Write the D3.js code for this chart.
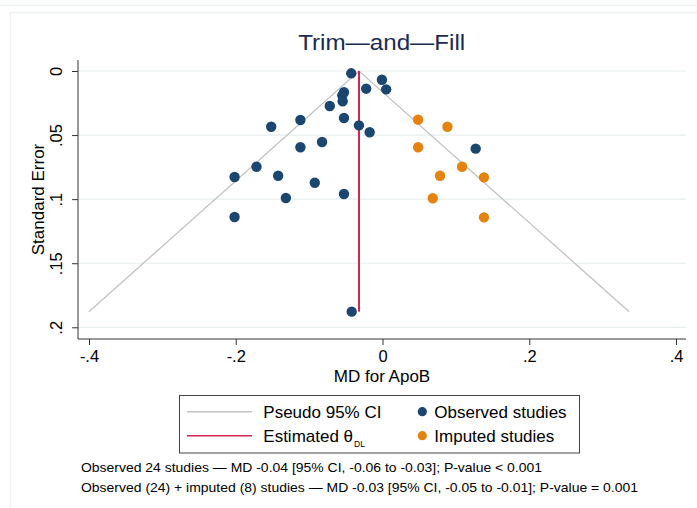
<!DOCTYPE html>
<html>
<head>
<meta charset="utf-8">
<script src="https://cdn.jsdelivr.net/npm/d3@7"></script>
<style>
  html, body { margin: 0; padding: 0; background: #ffffff; }
  svg { display: block; font-family: "Liberation Sans", Arial, Helvetica, sans-serif; }
</style>
</head>
<body>
<svg id="chart" width="697" height="508"></svg>
<script>
// ---------- data ----------
const observedMD = [-0.0426, -0.0008, -0.0222, 0.0050, -0.0525, -0.0548, -0.0543, -0.0719,
                    -0.0525, -0.1119, -0.1517, -0.0321, -0.0175, -0.0824, -0.1119, -0.1717,
                    -0.2016, -0.1422, -0.0923, -0.1317, -0.0525, -0.2016, 0.1270, -0.0420];
const observedSE = [0.0018, 0.0068, 0.0138, 0.0143, 0.0166, 0.0190, 0.0236, 0.0273,
                    0.0367, 0.0382, 0.0435, 0.0424, 0.0478, 0.0554, 0.0595, 0.0747,
                    0.0827, 0.0817, 0.0872, 0.0991, 0.0960, 0.1139, 0.0606, 0.1878];
const imputedMD = [0.0485, 0.0885, 0.0485, 0.1084, 0.0784, 0.1383, 0.0685, 0.1383];
const imputedSE = [0.0380, 0.0435, 0.0595, 0.0747, 0.0817, 0.0830, 0.0993, 0.1142];
const thetaDL = -0.032;
const xTicks = [-0.4, -0.2, 0, 0.2, 0.4];
const xTickLabels = ["-.4", "-.2", "0", ".2", ".4"];
const yTicks = [0, 0.05, 0.1, 0.15, 0.2];
const yTickLabels = ["0", ".05", ".1", ".15", ".2"];
const titleText = "Trim\u2014and\u2014Fill";
const xTitle = "MD for ApoB";
const yTitle = "Standard Error";
const legendItems = ["Pseudo 95% CI", "Estimated \u03b8", "Observed studies", "Imputed studies"];
const footnotes = [
  "Observed 24 studies \u2014 MD -0.04 [95% CI, -0.06 to -0.03]; P-value < 0.001",
  "Observed (24) + imputed (8) studies \u2014 MD -0.03 [95% CI, -0.05 to -0.01]; P-value = 0.001"
];

// ---------- setup ----------
const svg = d3.select("#chart");
const colBlue = "#1a4670", colOrange = "#e6820e", colRed = "#d4264f", colGray = "#c2c2c2";
const x = d3.scaleLinear().domain([-0.4, 0.4]).range([89, 676]);
const y = d3.scaleLinear().domain([0, 0.2]).range([71, 327.3]);
const plotL = 78, plotR = 686, plotT = 60, plotB = 339;

// background frame lines
svg.append("line").attr("x1", 0).attr("x2", 697).attr("y1", 5.5).attr("y2", 5.5)
  .attr("stroke", "#edf1f1").attr("stroke-width", 1.5);
svg.append("path").attr("d", "M10.5,508 V12.5 H697").attr("fill", "none")
  .attr("stroke", "#edf1f1").attr("stroke-width", 1.5);

// gridlines
svg.append("g").selectAll("line").data(yTicks).join("line")
  .attr("x1", plotL).attr("x2", plotR)
  .attr("y1", d => y(d)).attr("y2", d => y(d))
  .attr("stroke", "#e6eeee").attr("stroke-width", 1.2);

// axes
const yAxis = d3.axisLeft(y).tickValues(yTicks).tickFormat((d, i) => yTickLabels[i]).tickSize(6).tickSizeOuter(0);
const gy = svg.append("g").attr("transform", `translate(${plotL},0)`).call(yAxis);
gy.select(".domain").remove();
gy.append("line").attr("x1", 0).attr("x2", 0).attr("y1", plotT).attr("y2", plotB).attr("stroke", "#333");
gy.selectAll(".tick line").attr("stroke", "#333");
gy.selectAll(".tick text")
  .attr("font-size", 16.5).attr("fill", "#000")
  .attr("x", null).attr("dy", null)
  .attr("text-anchor", "middle")
  .attr("transform", "translate(-16,0) rotate(-90)");

const xAxis = d3.axisBottom(x).tickValues(xTicks).tickFormat((d, i) => xTickLabels[i]).tickSize(6).tickSizeOuter(0);
const gx = svg.append("g").attr("transform", `translate(0,${plotB})`).call(xAxis);
gx.select(".domain").remove();
gx.append("line").attr("x1", plotL).attr("x2", plotR).attr("y1", 0).attr("y2", 0).attr("stroke", "#333");
gx.selectAll(".tick line").attr("stroke", "#333");
gx.selectAll(".tick text").attr("font-size", 16.5).attr("fill", "#000").attr("y", 23).attr("dy", null);

// axis titles
svg.append("text").attr("transform", `translate(43.5,199.5) rotate(-90)`)
  .attr("text-anchor", "middle").attr("font-size", 17).attr("fill", "#000").text(yTitle);
svg.append("text").attr("x", 382).attr("y", 382)
  .attr("text-anchor", "middle").attr("font-size", 17).attr("fill", "#000").text(xTitle);

// title
svg.append("text").attr("x", 381.7).attr("y", 50.3).attr("text-anchor", "middle")
  .attr("font-size", 22.5).attr("fill", "#1b2a52")
  .attr("textLength", 167).attr("lengthAdjust", "spacingAndGlyphs").text(titleText);

// funnel (pseudo 95% CI)
const seMax = d3.max(observedSE);
const funnel = [[thetaDL - 1.96 * seMax, seMax], [thetaDL, 0], [thetaDL + 1.96 * seMax, seMax]];
svg.append("path").datum(funnel)
  .attr("d", d3.line().x(d => x(d[0])).y(d => y(d[1])))
  .attr("fill", "none").attr("stroke", colGray).attr("stroke-width", 1.3);

// estimated theta line
svg.append("line").attr("x1", x(thetaDL)).attr("x2", x(thetaDL))
  .attr("y1", y(0)).attr("y2", y(seMax))
  .attr("stroke", colRed).attr("stroke-width", 2);

// points
const obs = observedMD.map((d, i) => ({ md: d, se: observedSE[i] }));
const imp = imputedMD.map((d, i) => ({ md: d, se: imputedSE[i] }));
svg.append("g").selectAll("circle").data(obs).join("circle")
  .attr("cx", d => x(d.md)).attr("cy", d => y(d.se)).attr("r", 5.2).attr("fill", colBlue);
svg.append("g").selectAll("circle").data(imp).join("circle")
  .attr("cx", d => x(d.md)).attr("cy", d => y(d.se)).attr("r", 5.2).attr("fill", colOrange);

// legend
const lg = svg.append("g");
lg.append("rect").attr("x", 179.5).attr("y", 395.5).attr("width", 400).attr("height", 57.5)
  .attr("fill", "#fff").attr("stroke", "#444").attr("stroke-width", 1);
lg.append("line").attr("x1", 187).attr("x2", 252).attr("y1", 411.7).attr("y2", 411.7)
  .attr("stroke", colGray).attr("stroke-width", 1.5);
lg.append("line").attr("x1", 187).attr("x2", 252).attr("y1", 435.7).attr("y2", 435.7)
  .attr("stroke", colRed).attr("stroke-width", 1.5);
lg.append("text").attr("x", 263.3).attr("y", 418).attr("font-size", 17).attr("fill", "#000").text(legendItems[0]);
const est = lg.append("text").attr("x", 263.3).attr("y", 442).attr("font-size", 17).attr("fill", "#000");
est.append("tspan").text(legendItems[1]);
est.append("tspan").attr("font-size", 8.5).attr("dy", 5).attr("dx", 1).text("DL");
lg.append("circle").attr("cx", 422.3).attr("cy", 411.7).attr("r", 4.6).attr("fill", colBlue);
lg.append("circle").attr("cx", 422.3).attr("cy", 435.7).attr("r", 4.6).attr("fill", colOrange);
lg.append("text").attr("x", 434.3).attr("y", 418).attr("font-size", 17).attr("fill", "#000").text(legendItems[2]);
lg.append("text").attr("x", 434.3).attr("y", 442).attr("font-size", 17).attr("fill", "#000").text(legendItems[3]);

// footnotes
const fnLen = [461, 557];
svg.append("g").selectAll("text").data(footnotes).join("text")
  .attr("x", 81).attr("y", (d, i) => 471.5 + i * 20)
  .attr("font-size", 13).attr("fill", "#000")
  .attr("textLength", (d, i) => fnLen[i]).attr("lengthAdjust", "spacingAndGlyphs")
  .text(d => d);
</script>
</body>
</html>
